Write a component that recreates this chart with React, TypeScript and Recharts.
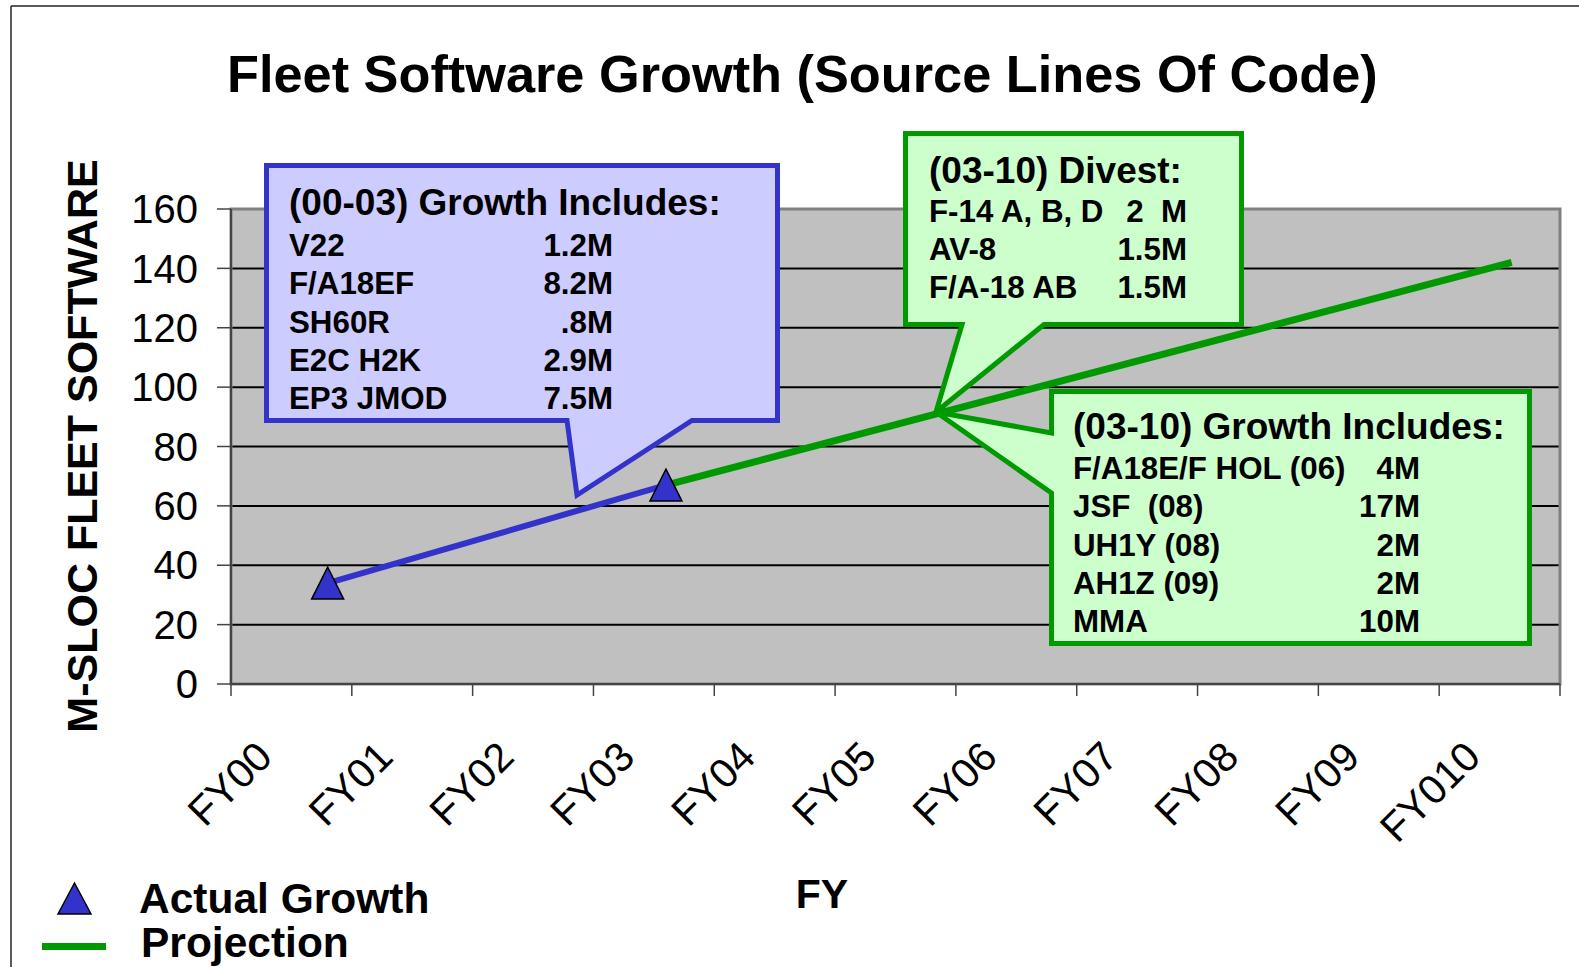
import React from "react";
import {
  ComposedChart,
  Line,
  XAxis,
  YAxis,
  CartesianGrid,
  ReferenceArea,
} from "recharts";

// fiscal years on a numeric axis: year index 0 = FY00, each year is one band
const fyLabels = ["FY00", "FY01", "FY02", "FY03", "FY04", "FY05", "FY06", "FY07", "FY08", "FY09", "FY010"];
const yearEdges = [0, 1, 2, 3, 4, 5, 6, 7, 8, 9, 10, 11];
const slocTicks = [0, 20, 40, 60, 80, 100, 120, 140, 160];

const actualYears = [0.8, 3.6];
const actualSloc = [34, 67];
const projectionYears = [3.6, 10.6];
const projectionSloc = [67, 142];

// callout texts
const blueTitle = "(00-03) Growth Includes:";
const blueNames = ["V22", "F/A18EF", "SH60R", "E2C H2K", "EP3 JMOD"];
const blueValues = ["1.2M", "8.2M", ".8M", "2.9M", "7.5M"];
const divestTitle = "(03-10) Divest:";
const divestNames = ["F-14 A, B, D", "AV-8", "F/A-18 AB"];
const divestValues = ["2  M", "1.5M", "1.5M"];
const growthTitle = "(03-10) Growth Includes:";
const growthNames = ["F/A18E/F HOL (06)", "JSF  (08)", "UH1Y (08)", "AH1Z (09)", "MMA"];
const growthValues = ["4M", "17M", "2M", "2M", "10M"];

const FONT = "'Liberation Sans', Arial, Helvetica, sans-serif";
const BLUE = "#3333CC";
const GREEN = "#009900";

const W = 1579;
const H = 967;
const Y_AXIS_W = 231;
const RIGHT = 19;
const BAND = (W - Y_AXIS_W - RIGHT) / fyLabels.length;

const actualData = actualYears.map((year, i) => ({ year, sloc: actualSloc[i] }));
const projectionData = projectionYears.map((year, i) => ({ year, sloc: projectionSloc[i] }));

const TriangleDot = (props: any) => {
  const { cx, cy } = props;
  if (cx == null || cy == null) return null;
  return (
    <polygon
      points={`${cx},${cy - 16} ${cx + 16},${cy + 16} ${cx - 16},${cy + 16}`}
      fill={BLUE}
      stroke="#000"
      strokeWidth={1.5}
    />
  );
};

// label sits in the middle of the year band, rotated like the original
const FyTick = (props: any) => {
  const { x, y, payload } = props;
  const label = fyLabels[payload.value];
  if (!label) return null;
  const ax = x + BAND / 2 - 17;
  const ay = y + 63;
  return (
    <text
      x={ax}
      y={ay}
      textAnchor="end"
      fontSize={41}
      fontFamily={FONT}
      fill="#000"
      transform={`rotate(-45 ${ax} ${ay})`}
    >
      {label}
    </text>
  );
};

const CalloutText = ({
  x,
  valueX,
  titleY,
  firstY,
  step,
  title,
  names,
  values,
}: {
  x: number;
  valueX: number;
  titleY: number;
  firstY: number;
  step: number;
  title: string;
  names: string[];
  values: string[];
}) => (
  <g fontFamily={FONT} fontWeight="bold" fill="#000">
    <text x={x} y={titleY} fontSize={37}>
      {title}
    </text>
    {names.map((n, i) => (
      <text key={n} x={x} y={firstY + i * step} fontSize={31.3} style={{ whiteSpace: "pre" }}>
        {n}
      </text>
    ))}
    {values.map((v, i) => (
      <text
        key={`v${i}`}
        x={valueX}
        y={firstY + i * step}
        fontSize={31.3}
        textAnchor="end"
        style={{ whiteSpace: "pre" }}
      >
        {v}
      </text>
    ))}
  </g>
);

const App: React.FC = () => {
  return (
    <div style={{ position: "absolute", left: 0, top: 0, width: W, height: H, background: "#fff" }}>
      <ComposedChart
        width={W}
        height={H}
        margin={{ top: 209, right: RIGHT, left: 0, bottom: 171 }}
      >
        <CartesianGrid
          vertical={false}
          stroke="#000"
          strokeWidth={2}
          fill="#C0C0C0"
          fillOpacity={1}
        />
        <XAxis
          dataKey="year"
          type="number"
          domain={[0, 11]}
          ticks={yearEdges}
          interval={0}
          allowDataOverflow
          height={112}
          tickSize={12}
          tickMargin={0}
          stroke="#444"
          axisLine={{ strokeWidth: 2 }}
          tickLine={{ strokeWidth: 1.5 }}
          tick={<FyTick />}
        />
        <YAxis
          type="number"
          domain={[0, 160]}
          ticks={slocTicks}
          interval={0}
          width={Y_AXIS_W}
          tickSize={14}
          tickMargin={19}
          stroke="#444"
          axisLine={{ strokeWidth: 2 }}
          tickLine={{ strokeWidth: 1.5 }}
          tick={{ fontSize: 40, fill: "#000", fontFamily: FONT }}
        />
        <ReferenceArea
          x1={0}
          x2={11}
          y1={0}
          y2={160}
          fill="none"
          stroke="#808080"
          strokeWidth={3}
        />
        <Line
          data={projectionData}
          dataKey="sloc"
          type="linear"
          stroke={GREEN}
          strokeWidth={7}
          dot={false}
          activeDot={false}
          isAnimationActive={false}
        />
        <Line
          data={actualData}
          dataKey="sloc"
          type="linear"
          stroke={BLUE}
          strokeWidth={6}
          dot={(p: any) => <TriangleDot key={`d${p.index}`} {...p} />}
          activeDot={false}
          isAnimationActive={false}
        />
      </ComposedChart>

      <svg
        width={W}
        height={H}
        style={{ position: "absolute", left: 0, top: 0, pointerEvents: "none" }}
      >
        {/* frame */}
        <line x1={11} y1={6} x2={W} y2={6} stroke="#222" strokeWidth={1.5} />
        <line x1={11} y1={6} x2={11} y2={H} stroke="#222" strokeWidth={1.5} />

        <text x={227} y={92} fontSize={52.3} fontWeight="bold" fontFamily={FONT} fill="#000">
          Fleet Software Growth (Source Lines Of Code)
        </text>

        <text
          x={97}
          y={446}
          fontSize={43}
          fontWeight="bold"
          fontFamily={FONT}
          fill="#000"
          textAnchor="middle"
          transform="rotate(-90 97 446)"
        >
          M-SLOC FLEET SOFTWARE
        </text>

        <text x={822} y={908} fontSize={41} fontWeight="bold" fontFamily={FONT} textAnchor="middle" fill="#000">
          FY
        </text>

        {/* legend */}
        <polygon points="74.5,883 91,914 58,914" fill={BLUE} stroke="#000" strokeWidth={1.5} />
        <text x={139} y={913} fontSize={42.5} fontWeight="bold" fontFamily={FONT} fill="#000">
          Actual Growth
        </text>
        <line x1={42} y1={946.5} x2={106} y2={946.5} stroke={GREEN} strokeWidth={7} />
        <text x={141} y={957} fontSize={42.5} fontWeight="bold" fontFamily={FONT} fill="#000">
          Projection
        </text>

        {/* callouts */}
        <path
          d="M266.5,165.5 H777.5 V420.5 H692 L577,495 L567,420.5 H266.5 Z"
          fill="#CCCCFF"
          stroke={BLUE}
          strokeWidth={5}
        />
        <CalloutText
          x={289}
          valueX={613}
          titleY={214.5}
          firstY={256}
          step={38.3}
          title={blueTitle}
          names={blueNames}
          values={blueValues}
        />

        <path
          d="M905.5,133.5 H1241.5 V324.5 H1044 L936,412 L962,324.5 H905.5 Z"
          fill="#CCFFCC"
          stroke={GREEN}
          strokeWidth={5}
        />
        <CalloutText
          x={929}
          valueX={1187}
          titleY={183}
          firstY={221.7}
          step={38.3}
          title={divestTitle}
          names={divestNames}
          values={divestValues}
        />

        <path
          d="M1051.5,391.5 H1529.5 V643.5 H1051.5 V493 L936,412 L1051.5,433 Z"
          fill="#CCFFCC"
          stroke={GREEN}
          strokeWidth={5}
        />
        <CalloutText
          x={1073}
          valueX={1420}
          titleY={439}
          firstY={479}
          step={38.3}
          title={growthTitle}
          names={growthNames}
          values={growthValues}
        />
      </svg>
    </div>
  );
};

export default App;
